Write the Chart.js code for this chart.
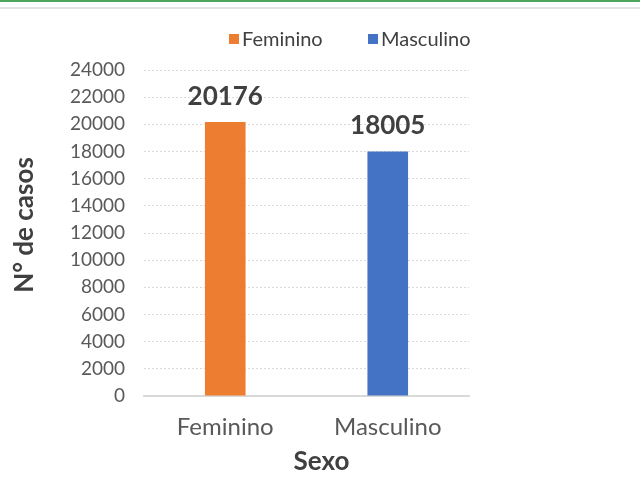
<!DOCTYPE html>
<html>
<head>
<meta charset="utf-8">
<script src="https://cdn.jsdelivr.net/npm/chart.js@4"></script>
<style>
  html, body { margin: 0; padding: 0; background: #fff; }
  .wrap { position: relative; width: 640px; height: 490px; }
  .top-green { position: absolute; left: 0; top: 0; width: 640px; height: 2px; background: #4ea55e; }
  .top-gray { position: absolute; left: 0; top: 7px; width: 640px; height: 2px; background: #e3e3e3; }
  canvas { position: absolute; left: 0; top: 0; }
</style>
</head>
<body>
<div class="wrap">
  <div class="top-green"></div>
  <div class="top-gray"></div>
  <canvas id="chart" width="640" height="490"></canvas>
</div>
<script>
// Dados do gráfico
const categories = ['Feminino', 'Masculino'];
const seriesNames = ['Feminino', 'Masculino'];
const femininoValues = [20176, null];
const masculinoValues = [null, 18005];
const yMin = 0;
const yMax = 24000;
const yStep = 2000;
const xTitle = 'Sexo';
const yTitle = 'N° de casos';

const FONT = 'Lato, "Open Sans", sans-serif';
const TEXT = '#595959';
const DARK = '#404040';

// Rótulos de dados, legenda e títulos dos eixos
const annotations = {
    id: 'annotations',
    afterDatasetsDraw(chart) {
        const ctx = chart.ctx;
        const area = chart.chartArea;
        ctx.save();

        // data labels
        ctx.font = 'bold 26px ' + FONT;
        ctx.fillStyle = DARK;
        ctx.textAlign = 'center';
        ctx.textBaseline = 'alphabetic';
        chart.data.datasets.forEach((ds, i) => {
            chart.getDatasetMeta(i).data.forEach((bar, j) => {
                const v = ds.data[j];
                if (v == null) return;
                ctx.fillText(String(v), bar.x, bar.y - 17);
            });
        });

        // legend
        ctx.font = '20px ' + FONT;
        ctx.textAlign = 'left';
        ctx.textBaseline = 'middle';
        const legendX = [229, 368];
        chart.data.datasets.forEach((ds, i) => {
            ctx.fillStyle = ds.backgroundColor;
            ctx.fillRect(legendX[i], 34, 10, 10);
            ctx.fillStyle = DARK;
            ctx.fillText(ds.label, legendX[i] + 13, 40);
        });

        // x title
        ctx.font = 'bold 26px ' + FONT;
        ctx.textAlign = 'center';
        ctx.textBaseline = 'alphabetic';
        ctx.fillStyle = DARK;
        ctx.fillText(xTitle, (area.left + area.right) / 2 + 15, 470);

        // y title
        ctx.translate(33, (area.top + area.bottom) / 2 - 8);
        ctx.rotate(-Math.PI / 2);
        ctx.fillText(yTitle, 0, 0);
        ctx.restore();
    }
};

new Chart(document.getElementById('chart'), {
    type: 'bar',
    data: {
        labels: categories,
        datasets: [{
            label: seriesNames[0],
            data: femininoValues,
            backgroundColor: '#ED7D31'
        }, {
            label: seriesNames[1],
            data: masculinoValues,
            backgroundColor: '#4472C4'
        }]
    },
    options: {
        responsive: false,
        animation: false,
        grouped: false,
        barPercentage: 0.25,
        categoryPercentage: 1,
        layout: { padding: { left: 0, right: 171, top: 70, bottom: 0 } },
        plugins: {
            legend: { display: false },
            tooltip: { enabled: false }
        },
        scales: {
            x: {
                grid: { display: false },
                border: { display: true, color: '#d9d9d9', width: 2 },
                ticks: { color: TEXT, font: { family: FONT, size: 24 }, padding: 9 },
                afterFit: s => { s.height = 94; }
            },
            y: {
                min: yMin,
                max: yMax,
                grid: { color: '#d9d9d9', lineWidth: 1, drawTicks: false },
                border: { display: false, dash: [2, 2] },
                ticks: {
                    stepSize: yStep,
                    color: TEXT,
                    font: { family: FONT, size: 19 },
                    padding: 19,
                    callback: v => String(v)
                },
                afterFit: s => { s.width = 144; }
            }
        }
    },
    plugins: [annotations]
});
</script>
</body>
</html>
